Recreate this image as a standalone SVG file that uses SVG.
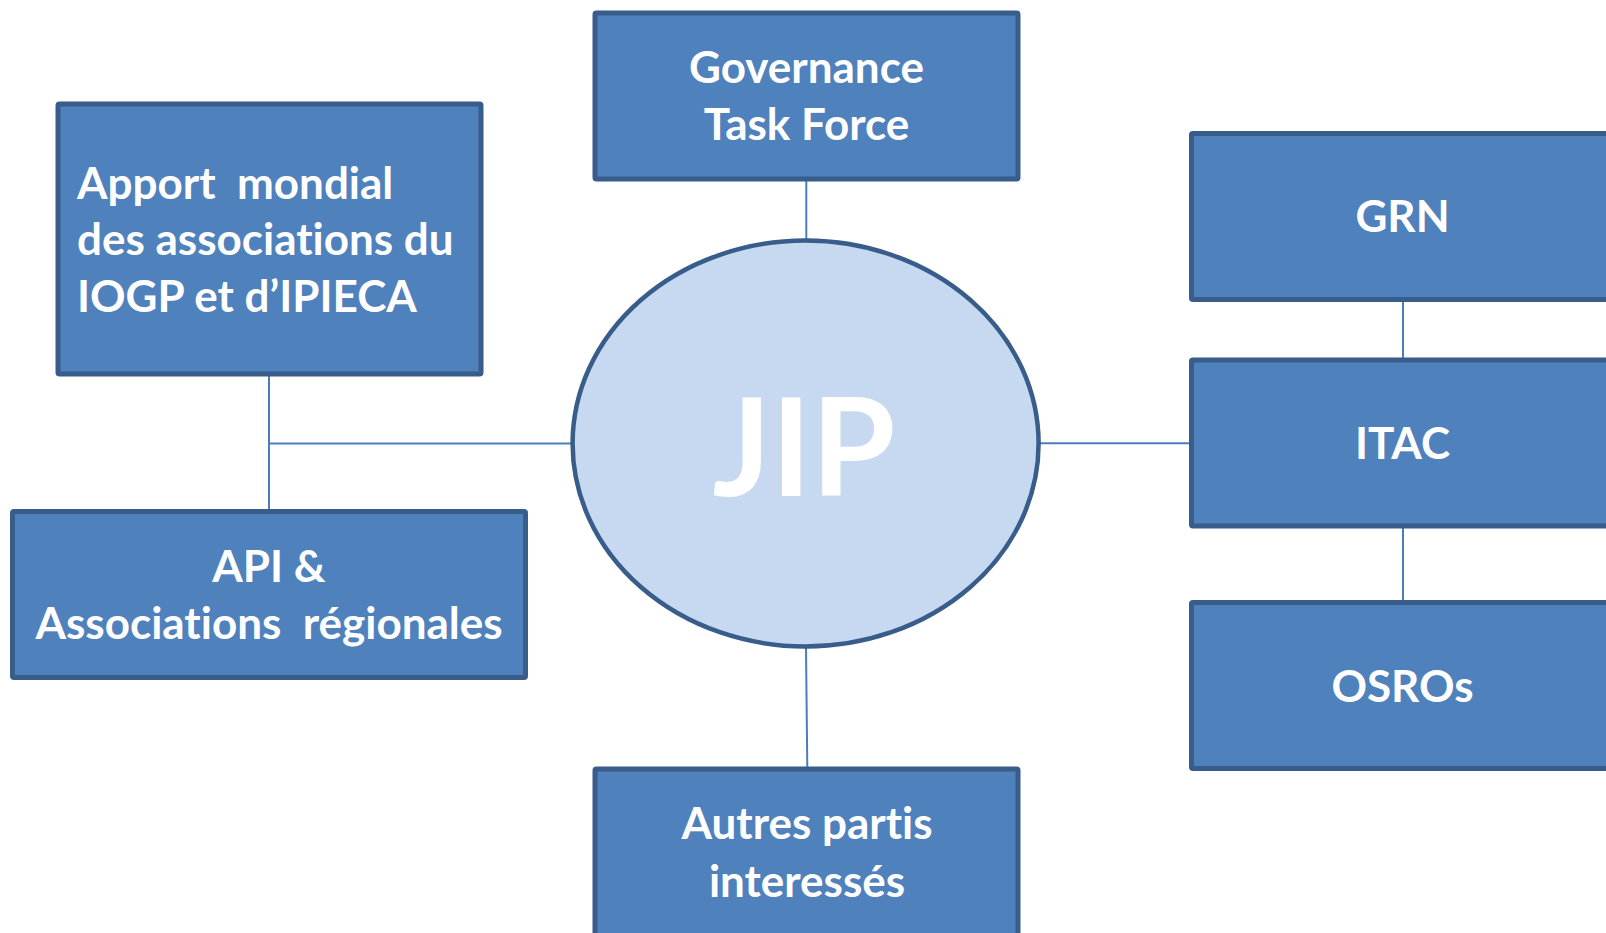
<svg xmlns="http://www.w3.org/2000/svg" width="1606" height="933" viewBox="0 0 1606 933">
<style>
.box{fill:#4F81BD;stroke:#385D8A;stroke-width:5}
.oval{fill:#C6D9F0;stroke:#385D8A;stroke-width:4.5}
.conn{stroke:#4A7EBB;stroke-width:2;fill:none}
.t{font-family:Lato,"Open Sans","Liberation Sans",sans-serif;font-weight:bold;font-size:44px;fill:#FFFFFF;white-space:pre;font-variant-ligatures:none}
.c{text-anchor:middle}
.big{font-size:136px;text-anchor:middle}
</style>
<rect width="1606" height="933" fill="#FFFFFF"/>
<g id="connectors">
<line class="conn" x1="269" y1="376" x2="269" y2="509"/>
<line class="conn" x1="269" y1="443.5" x2="572" y2="443.5"/>
<line class="conn" x1="806.3" y1="181" x2="806.3" y2="239"/>
<line class="conn" x1="806" y1="648" x2="807.3" y2="767"/>
<line class="conn" x1="1040" y1="443.3" x2="1190" y2="443.3"/>
<line class="conn" x1="1403" y1="302" x2="1403" y2="358"/>
<line class="conn" x1="1403" y1="528" x2="1403" y2="600"/>
</g>
<g id="jip">
<ellipse class="oval" cx="805.6" cy="443.5" rx="233" ry="203"/>
<text class="t big" x="804" y="496">JIP</text>
</g>
<g id="governance">
<rect class="box" x="595" y="13" width="423" height="166" rx="1.5"/>
<text class="t c" x="806.5" y="83">Governance</text>
<text class="t c" x="806.5" y="140">Task Force</text>
</g>
<g id="apport">
<rect class="box" x="58" y="104" width="423" height="270" rx="1.5"/>
<text class="t" x="77" y="198.5" xml:space="preserve">Apport  mondial</text>
<text class="t" x="77" y="254.5">des associations du</text>
<text class="t" x="77" y="312">IOGP et d’IPIECA</text>
</g>
<g id="api">
<rect class="box" x="12.5" y="511.5" width="513" height="166" rx="1.5"/>
<text class="t c" x="269" y="582">API &amp;</text>
<text class="t c" x="269" y="639" xml:space="preserve">Associations  régionales</text>
</g>
<g id="grn">
<rect class="box" x="1191.5" y="133.5" width="423" height="166" rx="1.5"/>
<text class="t c" x="1402.5" y="232">GRN</text>
</g>
<g id="itac">
<rect class="box" x="1191.5" y="360" width="423" height="166" rx="1.5"/>
<text class="t c" x="1402.5" y="458.5">ITAC</text>
</g>
<g id="osros">
<rect class="box" x="1191.5" y="602.5" width="423" height="166" rx="1.5"/>
<text class="t c" x="1402.5" y="702">OSROs</text>
</g>
<g id="autres">
<rect class="box" x="595" y="769" width="423" height="200" rx="1.5"/>
<text class="t c" x="807" y="838.5">Autres partis</text>
<text class="t c" x="807" y="896.5">interessés</text>
</g>
</svg>
